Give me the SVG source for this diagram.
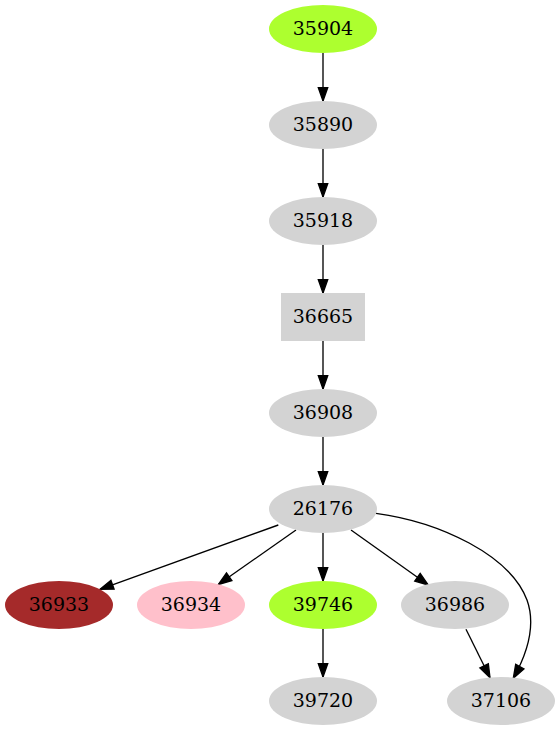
<svg xmlns="http://www.w3.org/2000/svg" width="559" height="731" viewBox="0 0 559 731">
<style>
.n{fill:#d3d3d3;stroke:none}
.t{font-family:"DejaVu Serif",serif;font-size:19px;text-anchor:middle;fill:#000}
.e{stroke:#000;stroke-width:1.33;fill:none;marker-end:url(#ah)}
</style>
<defs>
<marker id="ah" markerUnits="userSpaceOnUse" markerWidth="14" markerHeight="10" refX="13.3" refY="4.7" orient="auto" overflow="visible">
<path d="M0,0 L13.3,4.7 L0,9.4 z" fill="#000" stroke="#000" stroke-width="1.33"/>
</marker>
</defs>
<rect width="559" height="731" fill="#fff"/>
<g id="connectors">
<line class="e" x1="323" y1="53" x2="323" y2="101"/>
<line class="e" x1="323" y1="149" x2="323" y2="197"/>
<line class="e" x1="323" y1="245" x2="323" y2="293"/>
<line class="e" x1="323" y1="341" x2="323" y2="389"/>
<line class="e" x1="323" y1="437" x2="323" y2="485"/>
<line class="e" x1="278.3" y1="525" x2="100" y2="589.3"/>
<line class="e" x1="296" y1="530" x2="218.3" y2="584.5"/>
<line class="e" x1="323" y1="533" x2="323" y2="581"/>
<line class="e" x1="351" y1="530" x2="428.3" y2="585"/>
<path class="e" d="M376,513.3 C440,522 510,555 527,600 C536,625 528,652 513.3,678.3"/>
<line class="e" x1="323" y1="629" x2="323" y2="677"/>
<line class="e" x1="466" y1="629.3" x2="490" y2="677.7"/>
</g>
<g id="n35904"><ellipse cx="323" cy="29" rx="54" ry="24" fill="#adff2f"/><text class="t" x="323" y="35">35904</text></g>
<g id="n35890"><ellipse class="n" cx="323" cy="125" rx="54" ry="24"/><text class="t" x="323" y="131">35890</text></g>
<g id="n35918"><ellipse class="n" cx="323" cy="221" rx="54" ry="24"/><text class="t" x="323" y="227">35918</text></g>
<g id="n36665"><rect class="n" x="281" y="293" width="84" height="48"/><text class="t" x="323" y="323">36665</text></g>
<g id="n36908"><ellipse class="n" cx="323" cy="413" rx="54" ry="24"/><text class="t" x="323" y="419">36908</text></g>
<g id="n26176"><ellipse class="n" cx="323" cy="509" rx="54" ry="24"/><text class="t" x="323" y="515">26176</text></g>
<g id="n36933"><ellipse cx="59" cy="605" rx="54" ry="24" fill="#a52a2a"/><text class="t" x="59" y="611">36933</text></g>
<g id="n36934"><ellipse cx="191" cy="605" rx="54" ry="24" fill="#ffc0cb"/><text class="t" x="191" y="611">36934</text></g>
<g id="n39746"><ellipse cx="323" cy="605" rx="54" ry="24" fill="#adff2f"/><text class="t" x="323" y="611">39746</text></g>
<g id="n36986"><ellipse class="n" cx="455" cy="605" rx="54" ry="24"/><text class="t" x="455" y="611">36986</text></g>
<g id="n39720"><ellipse class="n" cx="323" cy="701" rx="54" ry="24"/><text class="t" x="323" y="707">39720</text></g>
<g id="n37106"><ellipse class="n" cx="501" cy="701" rx="54" ry="24"/><text class="t" x="501" y="707">37106</text></g>
</svg>
